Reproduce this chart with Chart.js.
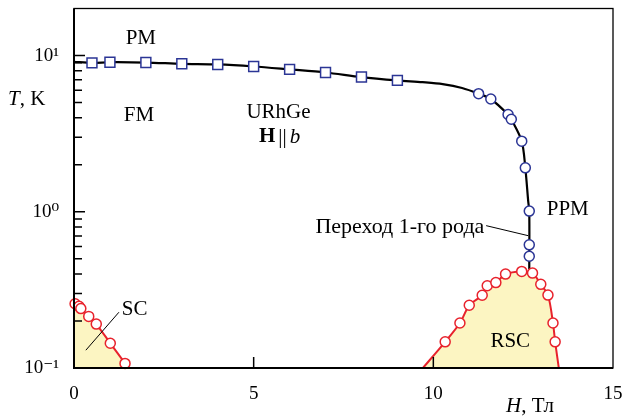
<!DOCTYPE html>
<html><head><meta charset="utf-8">
<script src="https://cdn.jsdelivr.net/npm/chart.js@4/dist/chart.umd.min.js"></script>
<style>html,body{margin:0;padding:0;background:#fff}#wrap{width:624px;height:416px}</style>
</head><body><div id="wrap"><canvas id="c" width="624" height="416"></canvas></div>
<script>
// ---- data ----
const squareH = [0.5, 1, 2, 3, 4, 5, 6, 7, 8, 9];
const squareT = [8.98, 9.06, 9.02, 8.85, 8.77, 8.51, 8.15, 7.79, 7.28, 6.93];
const circleH = [11.26, 11.60, 12.08, 12.17, 12.46, 12.56, 12.67, 12.67, 12.67];
const circleT = [5.70, 5.27, 4.19, 3.91, 2.83, 1.91, 1.01, 0.614, 0.519];
const boundaryH = [0, 0.5, 1, 2, 3, 4, 5, 6, 7, 8, 9, 9.7, 10.26, 10.8, 11.26, 11.60, 12.08, 12.17, 12.46, 12.56, 12.64, 12.67, 12.67];
const boundaryT = [9.12, 8.98, 9.06, 9.02, 8.85, 8.77, 8.51, 8.15, 7.79, 7.28, 6.93, 6.75, 6.56, 6.2, 5.70, 5.27, 4.19, 3.91, 2.83, 1.91, 1.17, 1.0, 0.43];
const scH = [0.03, 0.14, 0.19, 0.41, 0.62, 1.01, 1.42];
const scT = [0.258, 0.248, 0.240, 0.214, 0.191, 0.144, 0.107];
const scLineH = [0, 0.03, 0.14, 0.19, 0.41, 0.62, 1.01, 1.42, 1.52];
const scLineT = [0.262, 0.258, 0.248, 0.240, 0.214, 0.191, 0.144, 0.107, 0.097];
const rscH = [10.33, 10.74, 11.0, 11.36, 11.5, 11.74, 12.01, 12.46, 12.76, 12.99, 13.19, 13.33, 13.39];
const rscT = [0.147, 0.194, 0.252, 0.292, 0.336, 0.352, 0.399, 0.415, 0.405, 0.343, 0.293, 0.194, 0.147];
const rscLineH = [9.66, 10.33, 10.74, 11.0, 11.36, 11.5, 11.74, 12.01, 12.46, 12.76, 12.99, 13.19, 13.33, 13.39, 13.50];
const rscLineT = [0.097, 0.147, 0.194, 0.252, 0.292, 0.336, 0.352, 0.399, 0.415, 0.405, 0.343, 0.293, 0.194, 0.147, 0.097];
const xTicks = [0, 5, 10, 15];
const yTicks = [0.1, 1, 10];
const yTickLabels = ['10\u207B\u00B9', '10\u2070', '10\u00B9'];

const pts = (xs, ys) => xs.map((x, i) => ({x: x, y: ys[i]}));
const BLUE = '#2b3595', RED = '#e8222c', YEL = '#fcf5c2';
const SERIF = '"Liberation Serif", "DejaVu Serif", serif';

const deco = {
  id: 'deco',
  afterDatasetsDraw(chart) {
    const ctx = chart.ctx, a = chart.chartArea;
    const xs = chart.scales.x, ys = chart.scales.y;
    const X = v => xs.getPixelForValue(v), Y = v => ys.getPixelForValue(v);
    ctx.save();
    // frame
    ctx.strokeStyle = '#000';
    ctx.lineWidth = 1.3;
    ctx.strokeRect(a.left, a.top, a.right - a.left, a.bottom - a.top);
    ctx.lineWidth = 2;
    ctx.beginPath();
    ctx.moveTo(a.left, a.top); ctx.lineTo(a.left, a.bottom); ctx.lineTo(a.right, a.bottom);
    ctx.stroke();
    // inward ticks
    ctx.lineWidth = 1.5;
    ctx.beginPath();
    xTicks.forEach(v => { const p = X(v); if (p > a.left + 2 && p < a.right - 2) { ctx.moveTo(p, a.bottom); ctx.lineTo(p, a.bottom - 11); } });
    for (let d = -1; d <= 1; d++) {
      for (let m = 1; m <= 9; m++) {
        const v = m * Math.pow(10, d);
        if (v < ys.min || v > ys.max) continue;
        const p = Y(v);
        if (p < a.top + 2 || p > a.bottom - 1) continue;
        ctx.moveTo(a.left, p); ctx.lineTo(a.left + (m === 1 ? 11 : 8), p);
      }
    }
    ctx.stroke();
    // leader lines
    ctx.lineWidth = 1;
    ctx.beginPath();
    ctx.moveTo(X(1.25), Y(0.2275)); ctx.lineTo(X(0.33), Y(0.130));
    ctx.moveTo(X(11.47), Y(0.815)); ctx.lineTo(X(12.64), Y(0.703));
    ctx.stroke();
    // labels
    ctx.fillStyle = '#000';
    ctx.textBaseline = 'middle';
    ctx.font = '21px ' + SERIF;
    ctx.textAlign = 'center';
    ctx.fillText('PM', X(1.86), Y(12.8));
    ctx.fillText('FM', X(1.81), Y(4.15));
    ctx.fillText('URhGe', X(5.69), Y(4.33));
    ctx.fillText('PPM', X(13.74), Y(1.04));
    ctx.fillText('RSC', X(12.14), Y(0.148));
    ctx.textAlign = 'left';
    ctx.fillText('SC', X(1.33), Y(0.236));
    ctx.font = '22px ' + SERIF;
    ctx.textAlign = 'right';
    ctx.fillText('Переход 1-го рода', X(11.42), Y(0.80));
    // H || b
    ctx.textAlign = 'left';
    const hy = Y(3.01);
    ctx.font = 'bold 21px ' + SERIF; const wH = ctx.measureText('H').width;
    ctx.font = '21px ' + SERIF; const wB = ctx.measureText('||').width;
    ctx.font = 'italic 21px ' + SERIF; const wb = ctx.measureText('b').width;
    let hx = X(5.72) - (wH + wB + wb + 6) / 2;
    ctx.font = 'bold 21px ' + SERIF; ctx.fillText('H', hx, hy); hx += wH + 3;
    ctx.font = '21px ' + SERIF; ctx.fillText('||', hx, hy); hx += wB + 3;
    ctx.font = 'italic 21px ' + SERIF; ctx.fillText('b', hx, hy);
    // axis titles
    let tx = 8;
    const ty = 99;
    ctx.font = 'italic 21px ' + SERIF; ctx.fillText('T', tx, ty); tx += ctx.measureText('T').width;
    ctx.font = '21px ' + SERIF; ctx.fillText(', K', tx, ty);
    tx = 506;
    const ty2 = 406;
    ctx.font = 'italic 21px ' + SERIF; ctx.fillText('H', tx, ty2); tx += ctx.measureText('H').width;
    ctx.font = '21px ' + SERIF; ctx.fillText(', Тл', tx, ty2);
    ctx.restore();
  }
};

const noPad = s => { s.paddingLeft = 0; s.paddingRight = 0; s.paddingTop = 0; s.paddingBottom = 0; };

new Chart(document.getElementById('c'), {
  type: 'scatter',
  data: {
    datasets: [
      {data: pts(squareH, squareT), pointStyle: 'rect', pointRadius: 7, pointBorderWidth: 1.5,
       pointBackgroundColor: '#fff', pointBorderColor: BLUE, showLine: false, order: 1, clip: false},
      {data: pts(circleH, circleT), pointStyle: 'circle', pointRadius: 5, pointBorderWidth: 1.5,
       pointBackgroundColor: '#fff', pointBorderColor: BLUE, showLine: false, order: 1, clip: false},
      {data: pts(scH, scT), pointRadius: 5, pointBorderWidth: 1.5,
       pointBackgroundColor: '#fff', pointBorderColor: RED, showLine: false, order: 1, clip: false},
      {data: pts(rscH, rscT), pointRadius: 5, pointBorderWidth: 1.5,
       pointBackgroundColor: '#fff', pointBorderColor: RED, showLine: false, order: 1, clip: false},
      {data: pts(boundaryH, boundaryT), showLine: true, borderColor: '#000', borderWidth: 2.2,
       pointRadius: 0, tension: 0.3, order: 2},
      {data: pts(scLineH, scLineT), showLine: true, borderColor: RED, borderWidth: 2,
       pointRadius: 0, tension: 0.3, fill: 'start', backgroundColor: YEL, order: 3},
      {data: pts(rscLineH, rscLineT), showLine: true, borderColor: RED, borderWidth: 2,
       pointRadius: 0, tension: 0.3, fill: 'start', backgroundColor: YEL, order: 3}
    ]
  },
  options: {
    responsive: false,
    animation: false,
    layout: {padding: {left: 0, top: 7, right: 11, bottom: 0}},
    plugins: {legend: {display: false}, tooltip: {enabled: false}},
    scales: {
      x: {
        type: 'linear', min: 0, max: 15,
        grid: {display: false, drawTicks: false},
        border: {display: false},
        ticks: {stepSize: 5, padding: 15, color: '#000', font: {family: SERIF, size: 19}, maxRotation: 0},
        afterBuildTicks: s => { s.ticks = xTicks.map(v => ({value: v})); },
        afterFit: s => { s.height = 48; noPad(s); }
      },
      y: {
        type: 'logarithmic', min: 0.1, max: 20,
        grid: {display: false, drawTicks: false},
        border: {display: false},
        ticks: {padding: 15, color: '#000', font: {family: SERIF, size: 19},
          callback: (v) => { const i = yTicks.indexOf(v); return i >= 0 ? yTickLabels[i] : ''; }},
        afterBuildTicks: s => { s.ticks = yTicks.map(v => ({value: v})); },
        afterFit: s => { s.width = 74; noPad(s); }
      }
    }
  },
  plugins: [deco]
});
</script>
</body></html>
